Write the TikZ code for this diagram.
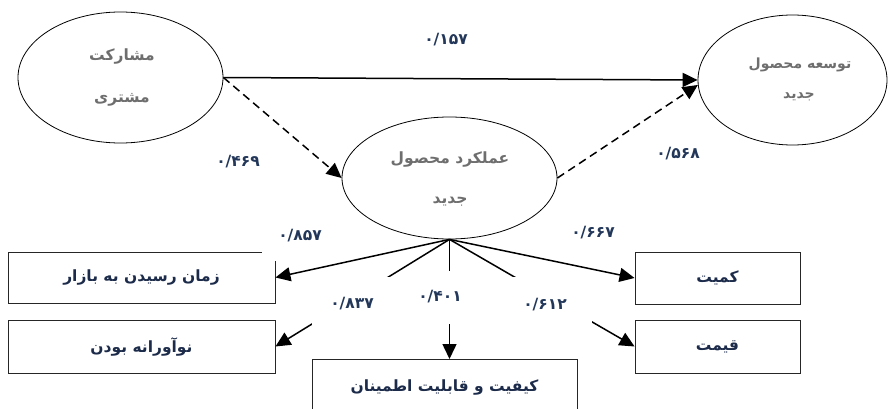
\documentclass[tikz,border=0pt]{standalone}
\usepackage{fontspec}
\newfontfamily\arabicfont[Script=Arabic]{DejaVu Sans}
\TeXXeTstate=1
\usetikzlibrary{arrows.meta,shapes.geometric}
\definecolor{txtgray}{HTML}{6E6E6E}
\definecolor{navy}{HTML}{1C2B4A}
\definecolor{numblue}{HTML}{223759}
\begin{document}
\begin{tikzpicture}[x=1pt,y=-1pt,
  ell/.style={ellipse,draw=black,line width=0.8pt,inner sep=0pt},
  ellt/.style={font=\arabicfont\bfseries\fontsize{15.5}{17}\selectfont,text=txtgray,inner sep=0pt},
  ellts/.style={font=\arabicfont\bfseries\fontsize{14}{16}\selectfont,text=txtgray,inner sep=0pt},
  boxn/.style={rectangle,draw=black!85,line width=0.9pt,inner sep=0pt,font=\arabicfont\bfseries\fontsize{15.5}{17}\selectfont,text=navy},
  num/.style={fill=white,inner sep=0pt,font=\arabicfont\bfseries\fontsize{15.5}{17}\selectfont,text=numblue},
  link/.style={line width=1.5pt,-{Triangle[length=15pt,width=14pt]}},
  dlink/.style={link,dash pattern=on 8pt off 5pt},
]
\useasboundingbox (0,0) rectangle (889,409);
\clip (0,0) rectangle (889,409);
% ellipses
\node[ell,minimum width=205pt,minimum height=131pt] (A) at (120.5,77.5) {};
\node[ell,minimum width=215pt,minimum height=122pt] (B) at (449.5,178) {};
\node[ell,minimum width=189pt,minimum height=130pt] (C) at (792.5,80) {};
\node[ellt] (a1) at (122,57) {\beginR مشارکت\endR};
\node[ellt] (a2) at (122,100) {\beginR مشتری\endR};
\node[ellt] (b1) at (450,160) {\beginR عملکرد محصول\endR};
\node[ellt] (b2) at (450,202) {\beginR جدید\endR};
\node[ellts] (c1) at (800,65) {\beginR توسعه محصول\endR};
\node[ellts] (c2) at (799,97) {\beginR جدید\endR};
% boxes
\node[boxn,minimum width=267pt,minimum height=51pt] (T) at (141.5,277.5) {\beginR زمان رسیدن به بازار\endR};
\node[boxn,minimum width=267pt,minimum height=53pt] (N) at (141.5,346.5) {\beginR نوآورانه بودن\endR};
\node[boxn,minimum width=265pt,minimum height=56pt,anchor=north] (Q) at (444.5,359) {\beginR کیفیت و قابلیت اطمینان\endR};
\node[boxn,minimum width=165pt,minimum height=52pt] (K) at (717.5,278) {\beginR کمیت\endR};
\node[boxn,minimum width=165pt,minimum height=53pt] (P) at (717.5,346.5) {\beginR قیمت\endR};
% connectors
\draw[link] (A.east) -- (C.west);
\draw[dlink] (A.east) -- (B.west);
\draw[dlink] (B.east) -- (C.183);
\draw[link] (B.south) -- (T.east);
\draw[link] (B.south) -- (N.east);
\draw[link] (B.south) -- (B.south |- Q.north);
\draw[link] (B.south) -- (K.west);
\draw[link] (B.south) -- (P.west);
% labels
\node[num,minimum width=76pt,minimum height=50pt] (l857) at (300,236) {۰/۸۵۷};
\node[num,minimum width=80pt,minimum height=53pt] (l837) at (352,303.5) {۰/۸۳۷};
\node[num,minimum width=80pt,minimum height=53pt] (l401) at (440,297) {۰/۴۰۱};
\node[num,minimum width=94pt,minimum height=56pt] (l612) at (545,305) {۰/۶۱۲};
\node[num] (l667) at (593,233) {۰/۶۶۷};
\node[num] (l157) at (446,40) {۰/۱۵۷};
\node[num] (l469) at (238,162) {۰/۴۶۹};
\node[num] (l568) at (678,154) {۰/۵۶۸};
\end{tikzpicture}
\end{document}
